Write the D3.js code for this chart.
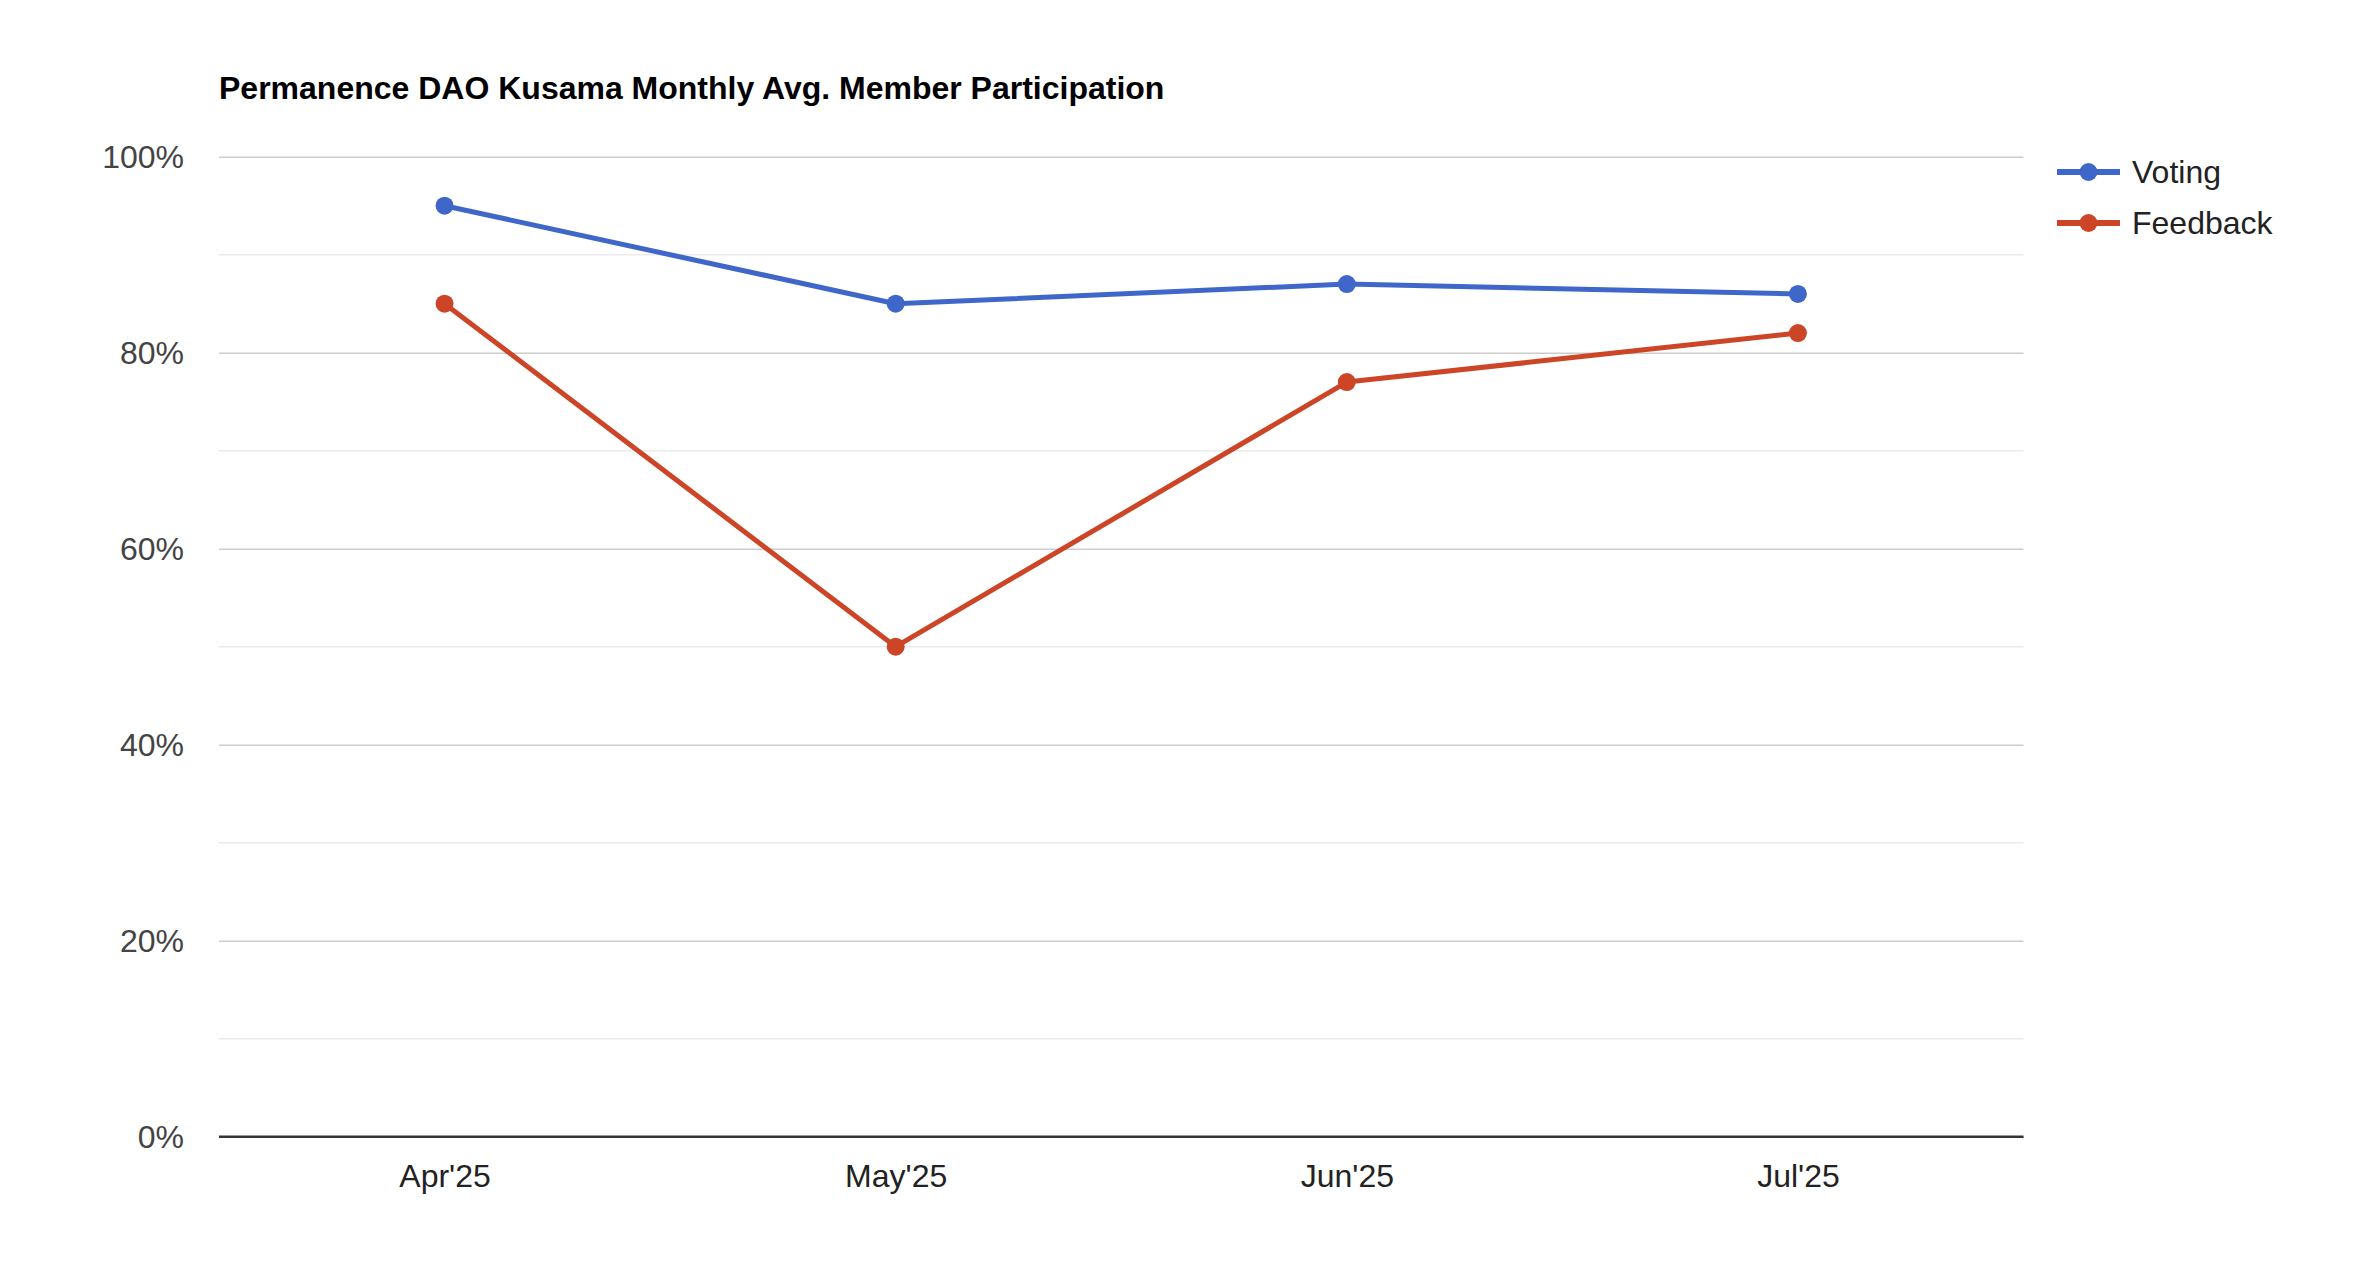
<!DOCTYPE html>
<html>
<head>
<meta charset="utf-8">
<script src="https://cdn.jsdelivr.net/npm/d3@7"></script>
<style>
  html, body { margin: 0; padding: 0; background: #fff; }
  svg { display: block; }
</style>
</head>
<body>
<svg id="chart" width="2366" height="1262"></svg>
<script>
const title = "Permanence DAO Kusama Monthly Avg. Member Participation";
const categories = ["Apr'25", "May'25", "Jun'25", "Jul'25"];
const seriesNames = ["Voting", "Feedback"];
const votingValues = [95, 85, 87, 86];
const feedbackValues = [85, 50, 77, 82];
const majorTicks = [0, 20, 40, 60, 80, 100];
const minorTicks = [10, 30, 50, 70, 90];
const seriesColors = ["#3f66c9", "#cd4527"];

const seriesData = [votingValues, feedbackValues];

const svg = d3.select("#chart");
const W = 2366, H = 1262;
const margin = { left: 219, right: W - 2023.5, top: 156.7, bottom: H - 1136.7 };
const font = "'Liberation Sans', Arial, sans-serif";

svg.append("rect").attr("width", W).attr("height", H).attr("fill", "#fff");

const x = d3.scalePoint().domain(categories).range([margin.left, W - margin.right]).padding(0.5);
const y = d3.scaleLinear().domain([0, 100]).range([H - margin.bottom, margin.top]);

// Title
svg.append("text")
  .attr("x", margin.left).attr("y", 99)
  .attr("font-family", font).attr("font-weight", "bold").attr("font-size", 32)
  .attr("fill", "#000")
  .text(title);

// Minor gridlines
svg.append("g").selectAll("line").data(minorTicks).join("line")
  .attr("x1", margin.left).attr("x2", W - margin.right)
  .attr("y1", d => y(d)).attr("y2", d => y(d))
  .attr("stroke", "#ebebeb").attr("stroke-width", 1.5);

// Major gridlines + y axis labels via d3 axis
const yAxis = d3.axisLeft(y).tickValues(majorTicks).tickFormat(d => d + "%")
  .tickSize(-(W - margin.left - margin.right)).tickPadding(35);
const yg = svg.append("g").attr("transform", `translate(${margin.left},0)`).call(yAxis);
yg.select(".domain").remove();
yg.selectAll(".tick line").attr("stroke", "#cccccc").attr("stroke-width", 1.5);
yg.selectAll(".tick text")
  .attr("font-family", font).attr("font-size", 32).attr("fill", "#444")
  .attr("dy", "0.35em");

// Baseline
svg.append("line")
  .attr("x1", margin.left).attr("x2", W - margin.right)
  .attr("y1", y(0)).attr("y2", y(0))
  .attr("stroke", "#333").attr("stroke-width", 2.5);

// X axis labels
const xAxis = d3.axisBottom(x).tickSize(0).tickPadding(28);
const xg = svg.append("g").attr("transform", `translate(0,${y(0)})`).call(xAxis);
xg.select(".domain").remove();
xg.selectAll(".tick text")
  .attr("font-family", font).attr("font-size", 32).attr("fill", "#222");

// Lines
const line = d3.line().x((d, i) => x(categories[i])).y(d => y(d));
seriesData.forEach((vals, si) => {
  svg.append("path").datum(vals)
    .attr("d", line).attr("fill", "none")
    .attr("stroke", seriesColors[si]).attr("stroke-width", 5)
    .attr("stroke-linejoin", "round");
  svg.append("g").selectAll("circle").data(vals).join("circle")
    .attr("cx", (d, i) => x(categories[i])).attr("cy", d => y(d))
    .attr("r", 9).attr("fill", seriesColors[si]);
});

// Legend
const legendY = [172, 223];
seriesNames.forEach((name, si) => {
  const g = svg.append("g");
  g.append("line").attr("x1", 2057).attr("x2", 2120)
    .attr("y1", legendY[si]).attr("y2", legendY[si])
    .attr("stroke", seriesColors[si]).attr("stroke-width", 6);
  g.append("circle").attr("cx", 2088.5).attr("cy", legendY[si]).attr("r", 9)
    .attr("fill", seriesColors[si]);
  g.append("text").attr("x", 2132).attr("y", legendY[si]).attr("dy", "0.35em")
    .attr("font-family", font).attr("font-size", 32).attr("fill", "#222")
    .text(name);
});
</script>
</body>
</html>
